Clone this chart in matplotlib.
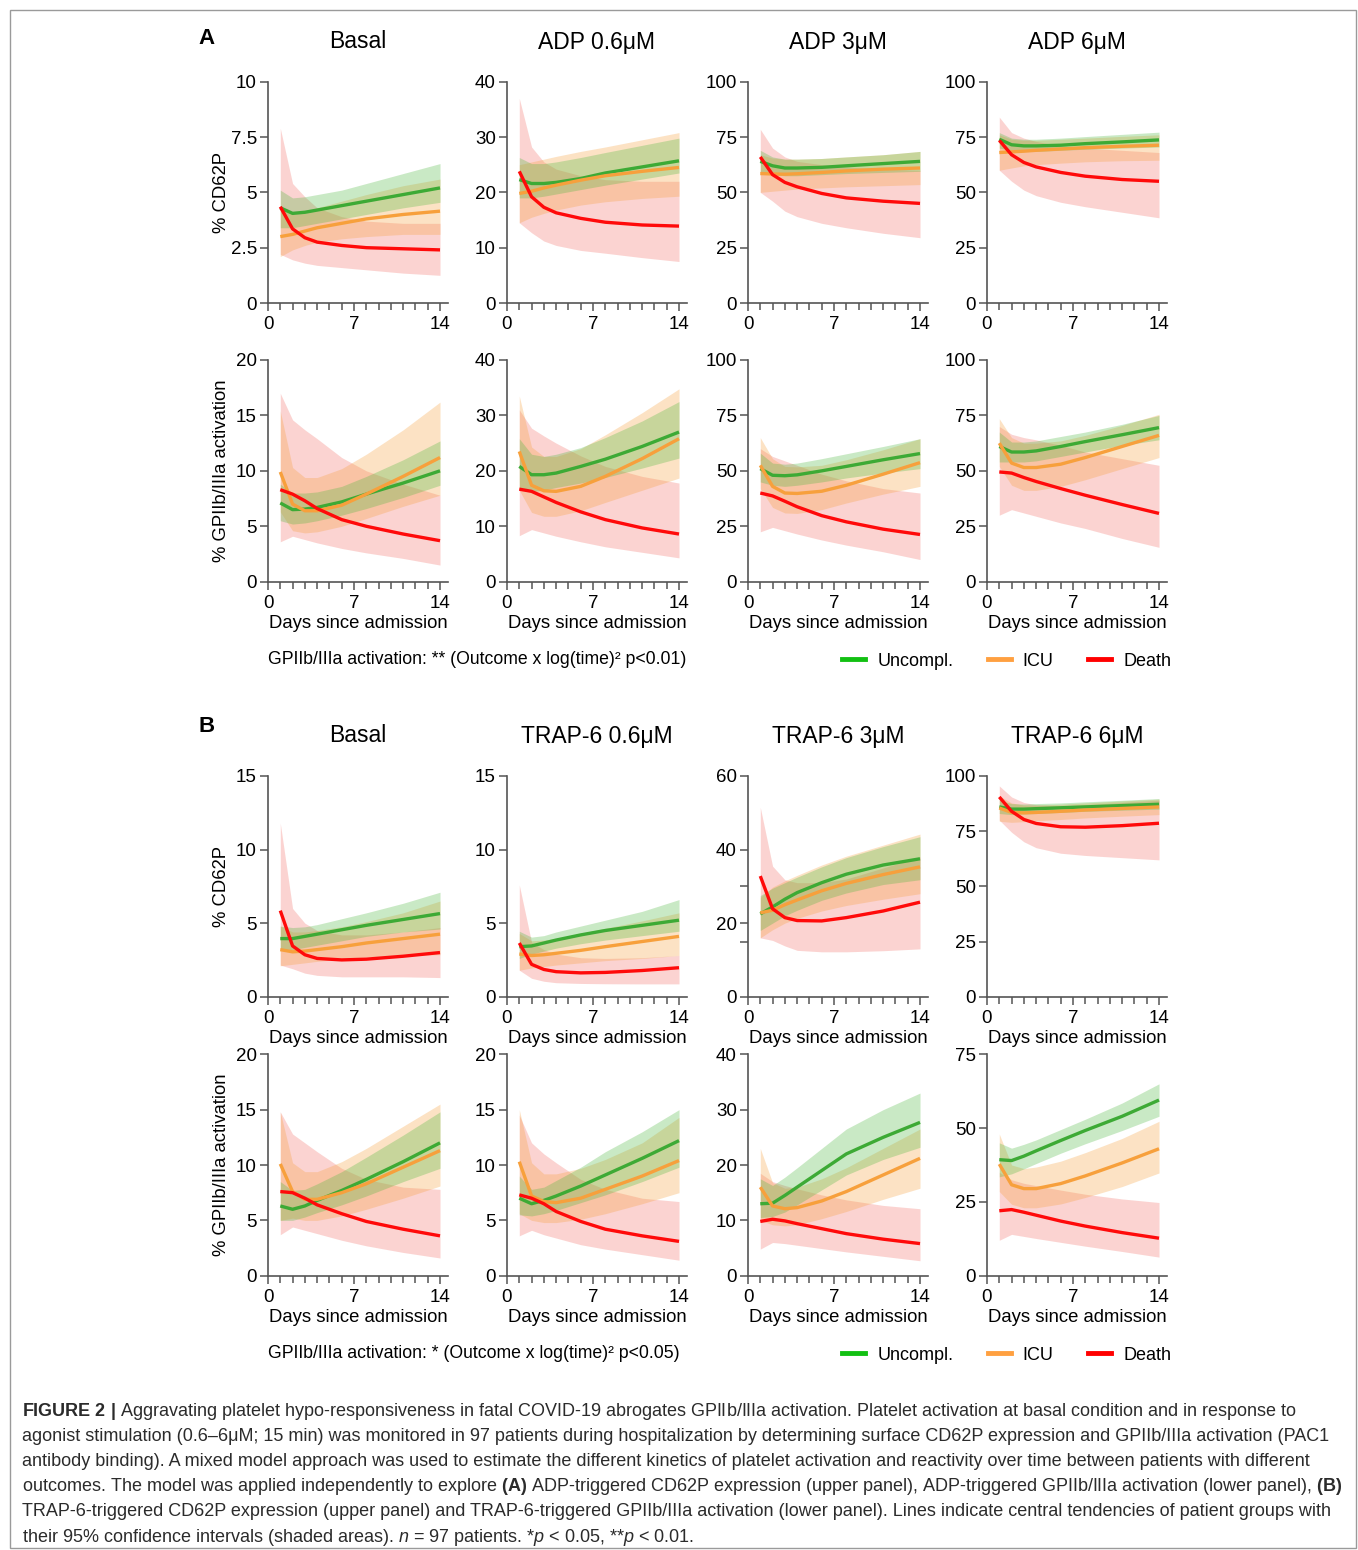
import matplotlib
matplotlib.use("Agg")
import matplotlib.pyplot as plt
from matplotlib.lines import Line2D
from matplotlib.patches import Rectangle

plt.rcParams['font.family'] = ['Liberation Sans', 'DejaVu Sans']
plt.rcParams['mathtext.fontset'] = 'custom'
plt.rcParams['mathtext.rm'] = 'Liberation Sans'
plt.rcParams['mathtext.it'] = 'Liberation Sans:italic'
plt.rcParams['mathtext.bf'] = 'Liberation Sans:bold'

# ---------------- data ----------------
DAYS = [1, 2, 3, 4, 6, 8, 11, 14]
GROUPS = ['Uncompl.', 'ICU', 'Death']
# each group: [central line, lower 95% CI, upper 95% CI]

# Panel A, CD62P
A_CD_BASAL_UNC = [[4.3, 4.05, 4.1, 4.2, 4.4, 4.6, 4.9, 5.2], [3.4, 3.4, 3.5, 3.6, 3.8, 4.0, 4.3, 4.55], [5.1, 4.75, 4.8, 4.9, 5.1, 5.4, 5.85, 6.3]]
A_CD_BASAL_ICU = [[3.0, 3.1, 3.25, 3.4, 3.6, 3.8, 4.0, 4.15], [2.1, 2.4, 2.6, 2.75, 2.9, 3.0, 3.1, 3.1], [4.4, 4.1, 4.15, 4.3, 4.6, 4.9, 5.3, 5.6]]
A_CD_BASAL_DEA = [[4.35, 3.35, 2.95, 2.75, 2.6, 2.5, 2.45, 2.4], [2.2, 1.95, 1.8, 1.7, 1.6, 1.5, 1.35, 1.25], [7.9, 5.4, 4.8, 4.3, 3.9, 3.7, 3.6, 3.6]]

A_CD_ADP06_UNC = [[22.3, 21.6, 21.6, 21.8, 22.5, 23.5, 24.6, 25.7], [19.0, 19.0, 19.3, 19.7, 20.5, 21.3, 22.4, 23.5], [26.3, 25.2, 25.2, 25.5, 26.3, 27.2, 28.5, 29.8]]
A_CD_ADP06_ICU = [[19.8, 20.2, 20.8, 21.3, 22.2, 23.0, 23.8, 24.5], [14.5, 15.5, 16.2, 16.8, 17.7, 18.3, 18.9, 19.3], [25.0, 25.5, 26.0, 26.5, 27.4, 28.2, 29.5, 30.8]]
A_CD_ADP06_DEA = [[23.8, 19.2, 17.3, 16.3, 15.3, 14.6, 14.1, 13.9], [14.5, 12.7, 11.2, 10.4, 9.5, 9.0, 8.2, 7.5], [37.0, 28.2, 25.5, 24.2, 23.0, 22.3, 22.0, 22.0]]

A_CD_ADP3_UNC = [[64.0, 62.0, 61.0, 61.0, 61.3, 62.0, 63.0, 64.0], [59.0, 58.0, 57.5, 57.5, 58.0, 58.5, 59.0, 59.5], [69.0, 66.0, 65.0, 65.0, 65.3, 66.0, 67.0, 68.5]]
A_CD_ADP3_ICU = [[58.5, 58.3, 58.2, 58.4, 59.0, 59.7, 60.5, 61.0], [50.0, 50.5, 51.0, 51.5, 52.0, 52.5, 53.0, 53.5], [67.0, 65.5, 65.0, 65.0, 65.3, 66.0, 67.0, 68.5]]
A_CD_ADP3_DEA = [[66.0, 58.0, 54.5, 52.5, 49.5, 47.5, 46.0, 45.0], [50.0, 46.0, 41.5, 39.0, 36.0, 34.0, 31.5, 29.5], [78.5, 70.0, 66.0, 64.0, 62.5, 61.5, 60.5, 60.0]]

A_CD_ADP6_UNC = [[74.0, 71.5, 71.0, 71.0, 71.3, 72.0, 72.8, 73.7], [70.0, 69.0, 68.5, 68.5, 69.0, 69.5, 70.0, 70.5], [77.0, 74.5, 74.0, 74.0, 74.5, 75.2, 76.2, 77.2]]
A_CD_ADP6_ICU = [[68.0, 68.3, 68.6, 69.0, 69.6, 70.2, 70.8, 71.3], [60.0, 61.0, 62.0, 62.5, 63.2, 63.8, 64.3, 64.5], [76.0, 74.0, 73.5, 73.5, 74.0, 74.5, 75.3, 76.0]]
A_CD_ADP6_DEA = [[73.5, 67.0, 63.5, 61.5, 59.0, 57.3, 55.8, 55.0], [60.0, 55.0, 51.0, 48.5, 45.5, 43.5, 41.0, 38.5], [84.0, 77.0, 74.5, 73.0, 71.0, 70.0, 69.0, 68.0]]

# Panel A, GPIIb/IIIa
A_GP_BASAL_UNC = [[7.1, 6.5, 6.55, 6.7, 7.2, 7.9, 8.9, 10.0], [5.5, 5.2, 5.3, 5.5, 6.0, 6.6, 7.6, 8.7], [8.8, 8.0, 8.0, 8.1, 8.6, 9.5, 11.0, 12.7]]
A_GP_BASAL_ICU = [[9.9, 7.0, 6.4, 6.4, 6.9, 7.9, 9.5, 11.2], [6.3, 4.6, 4.4, 4.5, 5.0, 5.7, 6.8, 7.8], [15.4, 10.3, 9.4, 9.4, 10.2, 11.5, 13.7, 16.2]]
A_GP_BASAL_DEA = [[8.3, 7.9, 7.3, 6.6, 5.6, 5.0, 4.3, 3.7], [3.6, 4.1, 3.8, 3.5, 3.0, 2.6, 2.1, 1.5], [17.0, 14.6, 13.7, 12.9, 11.2, 10.0, 8.8, 7.8]]

A_GP_ADP06_UNC = [[20.8, 19.3, 19.3, 19.6, 20.8, 22.1, 24.4, 27.0], [16.5, 16.3, 16.5, 17.0, 17.8, 18.8, 20.5, 22.3], [25.8, 23.0, 22.6, 23.0, 24.2, 26.0, 29.0, 32.5]]
A_GP_ADP06_ICU = [[23.5, 17.4, 16.4, 16.3, 17.2, 19.0, 22.2, 25.8], [16.5, 12.5, 11.8, 11.8, 12.8, 14.3, 16.5, 18.7], [33.5, 24.3, 22.6, 22.6, 24.0, 26.5, 30.5, 34.8]]
A_GP_ADP06_DEA = [[16.7, 16.3, 15.3, 14.3, 12.6, 11.2, 9.7, 8.6], [8.3, 9.4, 8.8, 8.2, 7.2, 6.3, 5.3, 4.3], [31.0, 27.7, 26.3, 25.0, 22.7, 20.8, 19.0, 17.8]]

A_GP_ADP3_UNC = [[51.0, 48.0, 47.8, 48.2, 50.0, 52.0, 55.0, 57.8], [45.0, 43.5, 43.0, 43.5, 45.0, 46.8, 49.0, 51.0], [58.0, 53.5, 53.0, 53.5, 55.5, 57.7, 61.0, 64.5]]
A_GP_ADP3_ICU = [[52.5, 43.0, 40.0, 39.8, 40.8, 43.5, 48.5, 53.7], [42.0, 33.5, 31.0, 30.8, 32.5, 35.5, 39.5, 43.0], [65.0, 55.5, 52.0, 51.8, 52.5, 55.0, 59.5, 64.5]]
A_GP_ADP3_DEA = [[40.0, 38.7, 36.3, 33.8, 29.8, 27.0, 23.7, 21.3], [22.5, 24.5, 23.0, 21.5, 18.8, 16.5, 13.5, 10.0], [60.0, 56.5, 54.5, 52.5, 48.5, 45.5, 42.0, 40.0]]

A_GP_ADP6_UNC = [[61.0, 58.5, 58.5, 59.0, 61.0, 63.2, 66.3, 69.5], [54.0, 54.0, 54.0, 54.5, 56.5, 58.5, 61.5, 64.0], [67.5, 63.0, 63.0, 63.5, 65.5, 67.5, 71.0, 75.0]]
A_GP_ADP6_ICU = [[62.5, 53.5, 51.5, 51.5, 53.0, 56.0, 61.0, 66.0], [52.0, 43.5, 41.2, 41.2, 43.0, 46.0, 51.0, 56.0], [73.5, 65.0, 62.5, 62.5, 63.5, 66.0, 70.5, 75.5]]
A_GP_ADP6_DEA = [[49.5, 49.0, 47.0, 45.2, 42.0, 39.0, 34.8, 30.8], [30.0, 32.5, 31.0, 29.5, 26.5, 24.0, 19.5, 15.5], [70.0, 66.5, 65.0, 64.0, 61.5, 58.5, 55.5, 52.5]]

# Panel B, CD62P
B_CD_BASAL_UNC = [[3.95, 3.95, 4.1, 4.25, 4.55, 4.85, 5.25, 5.65], [3.2, 3.2, 3.35, 3.5, 3.8, 4.1, 4.4, 4.6], [4.8, 4.7, 4.75, 4.9, 5.3, 5.7, 6.35, 7.1]]
B_CD_BASAL_ICU = [[3.2, 3.05, 3.1, 3.2, 3.4, 3.65, 3.95, 4.25], [2.1, 2.2, 2.3, 2.4, 2.55, 2.7, 2.8, 2.85], [4.8, 4.4, 4.4, 4.5, 4.75, 5.1, 5.7, 6.5]]
B_CD_BASAL_DEA = [[5.85, 3.45, 2.85, 2.6, 2.5, 2.55, 2.75, 3.0], [2.15, 1.9, 1.6, 1.45, 1.35, 1.35, 1.35, 1.3], [11.8, 6.0, 5.0, 4.5, 4.2, 4.2, 4.4, 4.7]]

B_CD_TRAP06_UNC = [[3.4, 3.45, 3.65, 3.85, 4.2, 4.5, 4.85, 5.2], [2.6, 2.9, 3.1, 3.3, 3.6, 3.85, 4.15, 4.45], [4.45, 4.05, 4.15, 4.4, 4.8, 5.2, 5.8, 6.6]]
B_CD_TRAP06_ICU = [[2.9, 2.8, 2.85, 2.95, 3.15, 3.4, 3.75, 4.1], [1.8, 1.95, 2.05, 2.15, 2.3, 2.45, 2.6, 2.8], [4.3, 3.8, 3.85, 3.95, 4.3, 4.65, 5.15, 5.7]]
B_CD_TRAP06_DEA = [[3.65, 2.2, 1.85, 1.7, 1.62, 1.65, 1.78, 1.97], [1.8, 1.25, 1.05, 0.95, 0.9, 0.88, 0.87, 0.87], [7.6, 3.7, 3.2, 2.9, 2.65, 2.6, 2.65, 2.8]]

B_CD_TRAP3_UNC = [[22.5, 24.4, 26.5, 28.3, 31.0, 33.3, 35.8, 37.5], [18.0, 20.0, 22.0, 23.5, 26.2, 28.2, 30.5, 31.8], [27.5, 29.5, 31.0, 32.5, 35.3, 37.8, 40.8, 43.5]]
B_CD_TRAP3_ICU = [[22.8, 23.5, 25.0, 26.3, 28.8, 30.8, 33.2, 35.3], [16.0, 18.2, 20.0, 21.3, 23.3, 24.8, 26.5, 28.0], [27.0, 29.8, 31.5, 33.0, 35.8, 38.2, 41.2, 44.2]]
B_CD_TRAP3_DEA = [[32.8, 23.9, 21.5, 20.7, 20.6, 21.5, 23.3, 25.7], [16.0, 15.3, 13.8, 12.6, 12.2, 12.2, 12.5, 13.0], [51.5, 35.5, 31.8, 31.0, 31.0, 32.0, 35.0, 38.0]]

B_CD_TRAP6_UNC = [[86.0, 85.0, 85.0, 85.2, 85.6, 86.0, 86.6, 87.2], [83.0, 82.5, 82.8, 83.0, 83.5, 84.0, 84.5, 85.0], [89.0, 87.5, 87.3, 87.5, 87.8, 88.3, 89.0, 89.8]]
B_CD_TRAP6_ICU = [[85.5, 83.5, 83.3, 83.5, 84.0, 84.6, 85.3, 86.0], [79.5, 79.0, 79.3, 79.7, 80.3, 81.0, 81.8, 82.5], [91.0, 87.8, 86.8, 86.8, 87.2, 87.8, 88.7, 89.5]]
B_CD_TRAP6_DEA = [[90.5, 84.0, 80.3, 78.5, 77.0, 76.8, 77.5, 78.6], [80.0, 74.5, 70.2, 67.5, 65.0, 64.0, 63.0, 62.0], [95.5, 90.5, 88.0, 87.0, 86.5, 87.0, 88.0, 89.0]]

# Panel B, GPIIb/IIIa
B_GP_BASAL_UNC = [[6.3, 6.0, 6.3, 6.8, 7.7, 8.7, 10.3, 12.0], [5.0, 5.0, 5.3, 5.7, 6.4, 7.2, 8.5, 9.7], [8.5, 7.7, 7.8, 8.3, 9.4, 10.7, 12.7, 14.8]]
B_GP_BASAL_ICU = [[10.1, 7.6, 6.9, 6.9, 7.5, 8.3, 9.8, 11.3], [5.0, 5.2, 5.0, 5.0, 5.4, 6.0, 7.0, 8.1], [14.8, 10.2, 9.4, 9.4, 10.3, 11.5, 13.5, 15.5]]
B_GP_BASAL_DEA = [[7.6, 7.5, 7.0, 6.4, 5.6, 4.9, 4.2, 3.6], [3.7, 4.4, 4.1, 3.8, 3.2, 2.7, 2.1, 1.6], [14.8, 12.8, 12.0, 11.2, 9.7, 8.7, 8.0, 7.8]]

B_GP_TRAP06_UNC = [[7.0, 6.5, 6.8, 7.2, 8.1, 9.1, 10.6, 12.2], [5.5, 5.4, 5.6, 5.9, 6.6, 7.3, 8.5, 9.8], [9.0, 7.8, 8.0, 8.6, 9.8, 11.2, 13.0, 15.0]]
B_GP_TRAP06_ICU = [[10.3, 7.2, 6.7, 6.6, 7.0, 7.8, 9.0, 10.4], [5.6, 5.0, 4.8, 4.8, 5.1, 5.6, 6.5, 7.5], [15.0, 10.2, 9.2, 9.2, 9.7, 10.5, 12.0, 14.3]]
B_GP_TRAP06_DEA = [[7.3, 7.0, 6.5, 5.8, 4.9, 4.2, 3.6, 3.1], [3.6, 4.1, 3.7, 3.4, 2.8, 2.4, 1.9, 1.4], [14.5, 12.0, 11.0, 10.2, 8.7, 7.8, 7.0, 6.7]]

B_GP_TRAP3_UNC = [[13.0, 13.1, 14.5, 16.0, 19.0, 22.0, 25.0, 27.7], [10.5, 10.7, 11.5, 12.8, 15.5, 18.2, 21.0, 23.2], [17.5, 16.3, 17.8, 19.5, 23.0, 26.5, 30.0, 33.0]]
B_GP_TRAP3_ICU = [[16.0, 12.6, 12.1, 12.3, 13.5, 15.2, 18.2, 21.2], [10.0, 9.2, 9.0, 9.2, 10.3, 11.6, 13.8, 15.8], [23.0, 16.8, 15.8, 16.0, 17.5, 19.5, 23.0, 26.5]]
B_GP_TRAP3_DEA = [[9.8, 10.2, 9.9, 9.4, 8.5, 7.6, 6.6, 5.8], [4.8, 6.0, 5.8, 5.5, 4.9, 4.3, 3.5, 2.7], [18.5, 17.0, 16.3, 15.7, 14.6, 13.7, 12.7, 12.1]]

B_GP_TRAP6_UNC = [[39.3, 39.0, 40.5, 42.3, 45.8, 49.2, 54.0, 59.5], [33.5, 34.5, 36.2, 38.0, 41.5, 44.7, 49.2, 54.0], [45.0, 43.2, 44.5, 46.0, 49.5, 53.0, 58.5, 65.0]]
B_GP_TRAP6_ICU = [[37.8, 30.8, 29.5, 29.5, 31.2, 33.8, 38.2, 43.0], [28.5, 24.2, 23.0, 23.0, 24.3, 26.5, 30.2, 34.8], [48.0, 37.5, 36.3, 36.8, 38.8, 41.7, 46.5, 52.3]]
B_GP_TRAP6_DEA = [[22.0, 22.4, 21.5, 20.5, 18.5, 16.8, 14.6, 12.7], [12.0, 14.0, 13.3, 12.6, 11.3, 10.0, 8.2, 6.3], [35.0, 32.5, 31.3, 30.5, 29.0, 27.6, 26.0, 24.8]]

TITLES_A = ['Basal', 'ADP 0.6\u03bcM', 'ADP 3\u03bcM', 'ADP 6\u03bcM']
TITLES_B = ['Basal', 'TRAP-6 0.6\u03bcM', 'TRAP-6 3\u03bcM', 'TRAP-6 6\u03bcM']
YLABELS = ['% CD62P', '% GPIIb/IIIa activation']

YTICKS = [
    [[0, 2.5, 5, 7.5, 10], [0, 10, 20, 30, 40], [0, 25, 50, 75, 100], [0, 25, 50, 75, 100]],
    [[0, 5, 10, 15, 20], [0, 10, 20, 30, 40], [0, 25, 50, 75, 100], [0, 25, 50, 75, 100]],
    [[0, 5, 10, 15], [0, 5, 10, 15], [0, 15, 20, 30, 40, 60], [0, 25, 50, 75, 100]],
    [[0, 5, 10, 15, 20], [0, 5, 10, 15, 20], [0, 10, 20, 30, 40], [0, 25, 50, 75]],
]
YTICKLABELS = [
    [['0', '2.5', '5', '7.5', '10'], ['0', '10', '20', '30', '40'], ['0', '25', '50', '75', '100'], ['0', '25', '50', '75', '100']],
    [['0', '5', '10', '15', '20'], ['0', '10', '20', '30', '40'], ['0', '25', '50', '75', '100'], ['0', '25', '50', '75', '100']],
    [['0', '5', '10', '15'], ['0', '5', '10', '15'], ['0', '', '20', '', '40', '60'], ['0', '25', '50', '75', '100']],
    [['0', '5', '10', '15', '20'], ['0', '5', '10', '15', '20'], ['0', '10', '20', '30', '40'], ['0', '25', '50', '75']],
]

PANELS = [
    [(A_CD_BASAL_UNC, A_CD_BASAL_ICU, A_CD_BASAL_DEA), (A_CD_ADP06_UNC, A_CD_ADP06_ICU, A_CD_ADP06_DEA),
     (A_CD_ADP3_UNC, A_CD_ADP3_ICU, A_CD_ADP3_DEA), (A_CD_ADP6_UNC, A_CD_ADP6_ICU, A_CD_ADP6_DEA)],
    [(A_GP_BASAL_UNC, A_GP_BASAL_ICU, A_GP_BASAL_DEA), (A_GP_ADP06_UNC, A_GP_ADP06_ICU, A_GP_ADP06_DEA),
     (A_GP_ADP3_UNC, A_GP_ADP3_ICU, A_GP_ADP3_DEA), (A_GP_ADP6_UNC, A_GP_ADP6_ICU, A_GP_ADP6_DEA)],
    [(B_CD_BASAL_UNC, B_CD_BASAL_ICU, B_CD_BASAL_DEA), (B_CD_TRAP06_UNC, B_CD_TRAP06_ICU, B_CD_TRAP06_DEA),
     (B_CD_TRAP3_UNC, B_CD_TRAP3_ICU, B_CD_TRAP3_DEA), (B_CD_TRAP6_UNC, B_CD_TRAP6_ICU, B_CD_TRAP6_DEA)],
    [(B_GP_BASAL_UNC, B_GP_BASAL_ICU, B_GP_BASAL_DEA), (B_GP_TRAP06_UNC, B_GP_TRAP06_ICU, B_GP_TRAP06_DEA),
     (B_GP_TRAP3_UNC, B_GP_TRAP3_ICU, B_GP_TRAP3_DEA), (B_GP_TRAP6_UNC, B_GP_TRAP6_ICU, B_GP_TRAP6_DEA)],
]

ANNOT_A = 'GPIIb/IIIa activation: ** (Outcome x log(time)\u00b2 p<0.01)'
ANNOT_B = 'GPIIb/IIIa activation: * (Outcome x log(time)\u00b2 p<0.05)'

CAPTION = [
    r'$\mathbf{FIGURE\ 2\ |}$ Aggravating platelet hypo-responsiveness in fatal COVID-19 abrogates GPIIb/IIIa activation. Platelet activation at basal condition and in response to',
    'agonist stimulation (0.6\u20136\u03bcM; 15 min) was monitored in 97 patients during hospitalization by determining surface CD62P expression and GPIIb/IIIa activation (PAC1',
    'antibody binding). A mixed model approach was used to estimate the different kinetics of platelet activation and reactivity over time between patients with different',
    r'outcomes. The model was applied independently to explore $\mathbf{(A)}$ ADP-triggered CD62P expression (upper panel), ADP-triggered GPIIb/IIIa activation (lower panel), $\mathbf{(B)}$',
    'TRAP-6-triggered CD62P expression (upper panel) and TRAP-6-triggered GPIIb/IIIa activation (lower panel). Lines indicate central tendencies of patient groups with',
    r'their 95% confidence intervals (shaded areas). $n$ = 97 patients. *$p$ < 0.05, **$p$ < 0.01.',
]

# ---------------- style ----------------
LINE_COLORS = ['#3DAA35', '#F7A03C', '#FF0A0A']
LEGEND_COLORS = ['#12C012', '#FFA040', '#FF0000']
BAND_COLORS = ['#4DB83F', '#F7A03C', '#EE3B30']
BAND_ALPHA = [0.30, 0.30, 0.22]
SPINE = '#555555'

W, H = 1358, 1550
fig = plt.figure(figsize=(W / 100, H / 100), dpi=100)


def fx(px):
    return px / W


def fy(py):
    return 1 - py / H


COL_X = [268, 507, 748, 987]
AX_W = 180
ROW_Y = [(81.7, 303.0), (360.0, 581.7), (776.0, 996.7), (1054.3, 1275.7)]

for r in range(4):
    ytop, ybot = ROW_Y[r]
    for c in range(4):
        x0 = COL_X[c]
        ax = fig.add_axes([fx(x0), fy(ybot), AX_W / W, (ybot - ytop) / H])
        yt = YTICKS[r][c]
        ax.set_xlim(0, 14.65)
        ax.set_ylim(0, yt[-1])
        for s in ['top', 'right']:
            ax.spines[s].set_visible(False)
        for s in ['left', 'bottom']:
            ax.spines[s].set_color(SPINE)
            ax.spines[s].set_linewidth(1.2)
        ax.set_xticks([0, 7, 14])
        ax.set_xticks([d for d in range(1, 14) if d != 7], minor=True)
        ax.set_yticks(yt)
        ax.set_yticklabels(YTICKLABELS[r][c])
        ax.tick_params(which='both', direction='out', color=SPINE, width=1.1, labelsize=13.5, labelcolor='black')
        ax.tick_params(which='major', length=6)
        ax.tick_params(axis='x', which='major', pad=3.5)
        ax.tick_params(axis='y', which='major', pad=2)
        ax.tick_params(which='minor', length=5)
        ax.patch.set_alpha(0)

        groups = PANELS[r][c]
        for gi in [2, 1, 0]:
            line, lo, hi = groups[gi]
            ax.fill_between(DAYS, lo, hi, color=BAND_COLORS[gi], alpha=BAND_ALPHA[gi], lw=0)
        for gi in [0, 1, 2]:
            line, lo, hi = groups[gi]
            ax.plot(DAYS, line, color=LINE_COLORS[gi], lw=2.4, solid_joinstyle='round', solid_capstyle='butt')

        cx = x0 + AX_W / 2
        if r in (0, 2):
            title = (TITLES_A if r == 0 else TITLES_B)[c]
            fig.text(fx(cx), fy(42 if r == 0 else 736), title, ha='center', va='center', fontsize=16.5)
        if r != 0:
            fig.text(fx(cx), fy(ybot + 42), 'Days since admission', ha='center', va='center', fontsize=13.3)
        if c == 0:
            fig.text(fx(221), fy((ytop + ybot) / 2), YLABELS[r % 2], rotation=90, ha='center', va='center', fontsize=13.3)

fig.text(fx(198), fy(39), 'A', ha='left', va='center', fontsize=16, fontweight='bold')
fig.text(fx(198), fy(726), 'B', ha='left', va='center', fontsize=16, fontweight='bold')

fig.text(fx(268), fy(660), ANNOT_A, ha='left', va='center', fontsize=12.7)
fig.text(fx(268), fy(1354), ANNOT_B, ha='left', va='center', fontsize=12.7)

handles = [Line2D([], [], color=LEGEND_COLORS[i], lw=3.5) for i in range(3)]
for yy in (661, 1355):
    fig.legend(handles, GROUPS, loc='center left', bbox_to_anchor=(fx(842), fy(yy)), ncol=3, frameon=False,
               fontsize=13, handlelength=1.3, handletextpad=0.65, columnspacing=1.9, borderpad=0, borderaxespad=0)

# caption
cap_texts = []
for i, line in enumerate(CAPTION):
    t = fig.text(fx(22), fy(1411 + i * 25.2), line, ha='left', va='center', fontsize=12, color='#2b2b2b')
    cap_texts.append(t)
renderer = fig.canvas.get_renderer()
w0 = cap_texts[0].get_window_extent(renderer).width
size = 12 * 1273.0 / w0
for t in cap_texts:
    t.set_fontsize(size)

fig.add_artist(Rectangle((fx(10), fy(1548)), (1356 - 10) / W, (1548 - 10) / H, transform=fig.transFigure,
                         fill=False, edgecolor='#9a9a9a', lw=1.0))

fig.savefig('out.png', dpi=100)
